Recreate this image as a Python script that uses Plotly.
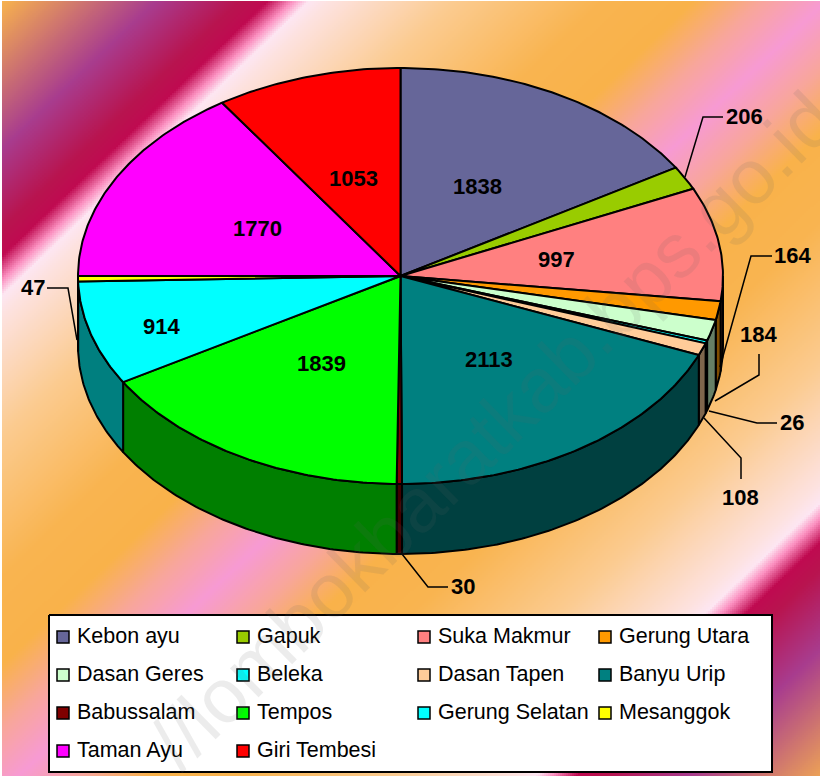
import numpy as np
import plotly.graph_objects as go

categories = ["Kebon ayu", "Gapuk", "Suka Makmur", "Gerung Utara", "Dasan Geres", "Beleka",
              "Dasan Tapen", "Banyu Urip", "Babussalam", "Tempos", "Gerung Selatan", "Mesanggok",
              "Taman Ayu", "Giri Tembesi"]
values = [1838, 206, 997, 164, 184, 26, 108, 2113, 30, 1839, 914, 47, 1770, 1053]
colors = ["#666699", "#99CC00", "#FF8080", "#FF9900", "#CCFFCC", "#00FFFF", "#FFCC99", "#008080",
          "#800000", "#00FF00", "#00FFFF", "#FFFF00", "#FF00FF", "#FF0000"]

W, H = 820, 776
CX, CY, RX, RY, DEPTH = 400.5, 276, 322.5, 208, 70
FONT = "Liberation Sans, Arial, sans-serif"


def darker(c):
    return "#%02X%02X%02X" % tuple(int(c[i:i + 2], 16) // 2 for i in (1, 3, 5))


def ell(deg, dy=0.0, r=1.0):
    a = np.radians(deg)
    return CX + r * RX * np.sin(a), CY + r * RY * (-np.cos(a)) + dy


def arc(a0, a1):
    n = max(2, int(abs(a1 - a0) * 1.5) + 2)
    return np.linspace(a0, a1, n)


fig = go.Figure()

# background gradient
gx = np.arange(3, W + 2, 2)
gy = np.arange(2, H + 2, 2)
X, Y = np.meshgrid(gx, gy)
Z = np.round(np.abs(0.96 * X + Y - 794) / 794, 3)
scale = [[0, "#F79AD3"], [0.08, "#F8A69A"], [0.16, "#F9B24A"], [0.27, "#F9B450"], [0.45, "#FBCB90"],
         [0.6, "#FDE2E0"], [0.625, "#FDE6F2"], [0.645, "#FB90C0"], [0.675, "#BF0A50"], [0.71, "#B8144F"],
         [0.81, "#A83C8E"], [1, "#F9B54C"]]
fig.add_trace(go.Heatmap(x=gx, y=gy, z=Z, colorscale=scale, zmin=0, zmax=1, showscale=False,
                         hoverinfo="skip"))

total = sum(values)
edges = np.cumsum([0] + values) / total * 360.0
line = dict(color="black", width=2)

# rim of the pie (front half only)
for v, c, a0, a1 in zip(values, colors, edges[:-1], edges[1:]):
    lo, hi = max(a0, 90), min(a1, 270)
    if hi <= lo:
        continue
    t = arc(lo, hi)
    xt, yt = ell(t)
    xb, yb = ell(t[::-1], DEPTH)
    fig.add_trace(go.Scatter(x=np.r_[xt, xb, xt[0]], y=np.r_[yt, yb, yt[0]], mode="lines", fill="toself",
                             fillcolor=darker(c), line=line, hoverinfo="skip"))

# top of the pie
for name, c, a0, a1 in zip(categories, colors, edges[:-1], edges[1:]):
    xs, ys = ell(arc(a0, a1))
    fig.add_trace(go.Scatter(x=np.r_[CX, xs, CX], y=np.r_[CY, ys, CY], mode="lines", fill="toself",
                             fillcolor=c, line=line, name=name, hoverinfo="skip"))

# value labels
placed = {206: (744, 116), 164: (792, 255), 184: (758, 334), 26: (792, 422), 108: (740, 497),
          30: (463, 586), 47: (33, 287), 914: (161, 326), 1770: (257, 228), 1053: (353, 178)}
annotations = []
for v, a0, a1 in zip(values, edges[:-1], edges[1:]):
    if v in placed:
        lx, ly = placed[v]
    else:
        lx, ly = ell((a0 + a1) / 2, -1, 0.49)
    annotations.append(dict(x=lx, y=ly, text="<b>%d</b>" % v, showarrow=False,
                            font=dict(family=FONT, size=22, color="black")))

# leader lines
leaders = [
    [(685, 177), (703, 117), (723, 117)],
    [(720, 367), (751, 256), (772, 256)],
    [(715, 401), (759, 375), (759, 354)],
    [(709, 411), (757, 423), (777, 423)],
    [(704, 418), (741, 458), (741, 479)],
    [(402, 554), (428, 587), (448, 587)],
    [(77, 340), (68, 288), (47, 288)],
]
for pts in leaders:
    fig.add_trace(go.Scatter(x=[p[0] for p in pts], y=[p[1] for p in pts], mode="lines",
                             line=dict(color="black", width=1.5), hoverinfo="skip"))

# legend
fig.add_trace(go.Scatter(x=[49, 772, 772, 49, 49], y=[615, 615, 772, 772, 615], mode="lines", fill="toself",
                         fillcolor="white", line=line, hoverinfo="skip"))
col_x = [63, 243, 424, 605]
row_y = [637, 675, 713, 751]
for i, (name, c) in enumerate(zip(categories, colors)):
    mx, my = col_x[i % 4], row_y[i // 4]
    fig.add_trace(go.Scatter(x=[mx], y=[my], mode="markers", name=name, hoverinfo="skip",
                             marker=dict(symbol="square", size=12, color=c, line=dict(color="black", width=1.5))))
    annotations.append(dict(x=mx + 12, y=my - 1, text=name, showarrow=False, xanchor="left",
                            font=dict(family=FONT, size=21.5, color="black")))

# watermark
annotations.append(dict(x=492, y=430, text="//lombokbaratkab.bps.go.id", showarrow=False, textangle=-44.5,
                        font=dict(family=FONT, size=77, color="rgba(100,100,100,0.12)")))

fig.update_layout(
    width=W, height=H, margin=dict(l=0, r=0, t=0, b=0), showlegend=False,
    paper_bgcolor="white", plot_bgcolor="white", annotations=annotations,
    xaxis=dict(range=[0, W], visible=False, fixedrange=True),
    yaxis=dict(range=[H, 0], visible=False, fixedrange=True),
)
fig.write_html("out.html", config=dict(displayModeBar=False),
               post_script="document.body.style.margin='0';document.documentElement.style.overflow='hidden';")
